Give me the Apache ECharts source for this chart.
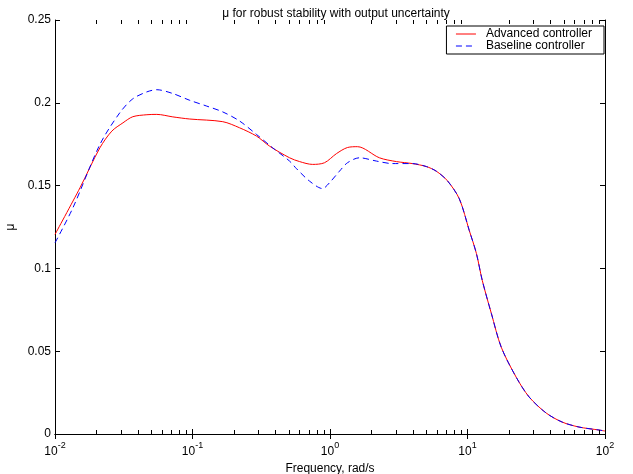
<!DOCTYPE html>
<html><head><meta charset="utf-8">
<script src="https://cdn.jsdelivr.net/npm/echarts@6/dist/echarts.min.js"></script>
<style>html,body{margin:0;padding:0;background:#fff;overflow:hidden}#c{width:633px;height:474px}</style>
</head><body><div id="c"></div>
<script>
// Data (frequency in rad/s, mu values)
const advFreq = [0.01,0.0152,0.0212,0.0259,0.0312,0.0368,0.0466,0.055,0.0719,0.0955,0.166,0.22,0.292,0.364,0.508,0.601,0.746,0.912,1.114,1.34,1.585,2.286,3.04,3.97,5.02,5.93,7.13,8.71,10.3,11.6,12.8,14.9,17.6,22.6,28.1,37.3,48.8,64.7,90.4,100];
const advMu = [0.1205,0.1487,0.1728,0.1829,0.1879,0.1916,0.1928,0.1930,0.1915,0.1902,0.1886,0.1849,0.1799,0.1738,0.1668,0.1645,0.1628,0.1638,0.1693,0.1730,0.1735,0.1668,0.1645,0.1633,0.1615,0.1587,0.1530,0.1421,0.1229,0.1091,0.0928,0.0729,0.0524,0.0343,0.0223,0.0127,0.0072,0.0042,0.0024,0.0018];
const baseFreq = [0.01,0.0135,0.0212,0.0296,0.0368,0.0466,0.055,0.0719,0.0955,0.127,0.166,0.22,0.292,0.383,0.508,0.571,0.71,0.883,0.991,1.172,1.34,1.637,2.178,2.844,3.97,5.02,5.93,7.13,8.71,10.3,11.6,12.8,14.9,17.6,22.6,28.1,37.3,48.8,64.7,90.4,100];
const baseMu = [0.1154,0.1366,0.1748,0.1940,0.2024,0.2066,0.2079,0.2056,0.2015,0.1980,0.1945,0.1890,0.1809,0.1728,0.1648,0.1602,0.1527,0.1482,0.1517,0.1587,0.1638,0.1668,0.1648,0.1633,0.1633,0.1615,0.1587,0.1530,0.1421,0.1229,0.1091,0.0928,0.0729,0.0524,0.0343,0.0223,0.0127,0.0072,0.0042,0.0024,0.0018];
const yTicks = [0,0.05,0.1,0.15,0.2,0.25];
const xDecades = [-2,-1,0,1,2];
const seriesNames = ['Advanced controller','Baseline controller'];
const titleText = 'μ for robust stability with output uncertainty';
const xName = 'Frequency, rad/s';
const yName = 'μ';

const minorVals = [];
for (let d = xDecades[0]; d < xDecades[xDecades.length-1]; d++) {
  for (let k = 2; k <= 9; k++) minorVals.push(k * Math.pow(10, d));
}

const FONT = 'Liberation Sans, Arial, sans-serif';
const chart = echarts.init(document.getElementById('c'), null, {renderer:'canvas', width:633, height:474});
const axisLine = {show:true, lineStyle:{color:'#000', width:1}};
const option = {
  backgroundColor:'#fff',
  animation:false,
  textStyle:{fontFamily:FONT},
  title:{text:titleText, left:331, top:3, textAlign:'center',
    textStyle:{fontSize:12, fontWeight:'normal', color:'#000', fontFamily:FONT}},
  grid:{left:55, right:28, top:20, bottom:40, containLabel:false, outerBoundsMode:'none'},
  legend:{
    data:seriesNames, right:29, top:26, orient:'vertical',
    backgroundColor:'#fff', borderColor:'#000', borderWidth:1, borderRadius:0,
    padding:[2,12,2,9], itemGap:0, itemWidth:20, itemHeight:12,
    itemStyle:{opacity:0}, lineStyle:{width:1},
    textStyle:{fontSize:12, color:'#000', fontFamily:FONT, padding:[0,0,0,5]}
  },
  xAxis:[{
    type:'log', logBase:10, min:0.01, max:100, position:'bottom',
    axisLine:axisLine,
    axisTick:{show:true, inside:true, length:5, lineStyle:{color:'#000'}},
    splitLine:{show:false},
    axisLabel:{color:'#000', margin:7,
      formatter:function(v){const e=Math.round(Math.log10(v));return '{b|10}{s|'+e+'}';},
      rich:{b:{fontSize:12, fontFamily:FONT, color:'#000', verticalAlign:'bottom'},
            s:{fontSize:9, fontFamily:FONT, color:'#000', verticalAlign:'top', padding:[0,0,8,0]}}},
    name:xName, nameLocation:'middle', nameGap:23,
    nameTextStyle:{fontSize:12, color:'#000', fontFamily:FONT}
  },{
    type:'log', logBase:10, min:0.01, max:100, position:'top',
    axisLine:axisLine,
    axisTick:{show:true, inside:true, length:5, lineStyle:{color:'#000'}},
    axisLabel:{show:false}, splitLine:{show:false}
  }],
  yAxis:[{
    type:'value', min:0, max:0.25, interval:0.05, position:'left',
    axisLine:axisLine,
    axisTick:{show:true, inside:true, length:5, lineStyle:{color:'#000'}},
    splitLine:{show:false},
    axisLabel:{color:'#000', fontSize:12, margin:4, fontFamily:FONT,
      formatter:function(v){return yTicks.indexOf(+v.toFixed(2))>=0 ? String(+v.toFixed(2)) : '';}},
    name:yName, nameLocation:'middle', nameGap:37, nameRotate:90,
    nameTextStyle:{fontSize:12, color:'#000', fontFamily:FONT}
  },{
    type:'value', min:0, max:0.25, interval:0.05, position:'right',
    axisLine:axisLine,
    axisTick:{show:true, inside:true, length:5, lineStyle:{color:'#000'}},
    axisLabel:{show:false}, splitLine:{show:false}
  }],
  series:[
    {name:seriesNames[0], type:'line', xAxisIndex:0, yAxisIndex:0, symbol:'none', smooth:0.3,
      data:advFreq.map((f,i)=>[f,advMu[i]]),
      lineStyle:{color:'#ff0000', width:1}, itemStyle:{color:'#ff0000'}, z:3},
    {name:seriesNames[1], type:'line', xAxisIndex:0, yAxisIndex:0, symbol:'none', smooth:0.3,
      data:baseFreq.map((f,i)=>[f,baseMu[i]]),
      lineStyle:{color:'#0000ff', width:1, type:[6,4]}, itemStyle:{color:'#0000ff'}, z:4}
  ]
};
chart.setOption(option);

// Log-axis minor ticks, positioned through the library's own axis scale
const yb = Math.round(chart.convertToPixel({yAxisIndex:0}, 0));
const yt = Math.round(chart.convertToPixel({yAxisIndex:0}, 0.25));
const tickEls = [];
minorVals.forEach(function(v){
  const x = Math.round(chart.convertToPixel({xAxisIndex:0}, v)) + 0.5;
  tickEls.push({type:'line', shape:{x1:x, y1:yb, x2:x, y2:yb-4}, style:{stroke:'#000', lineWidth:1}, silent:true, z:10});
  tickEls.push({type:'line', shape:{x1:x, y1:yt, x2:x, y2:yt+4}, style:{stroke:'#000', lineWidth:1}, silent:true, z:10});
});
chart.setOption({graphic:{elements:tickEls}});
</script></body></html>
